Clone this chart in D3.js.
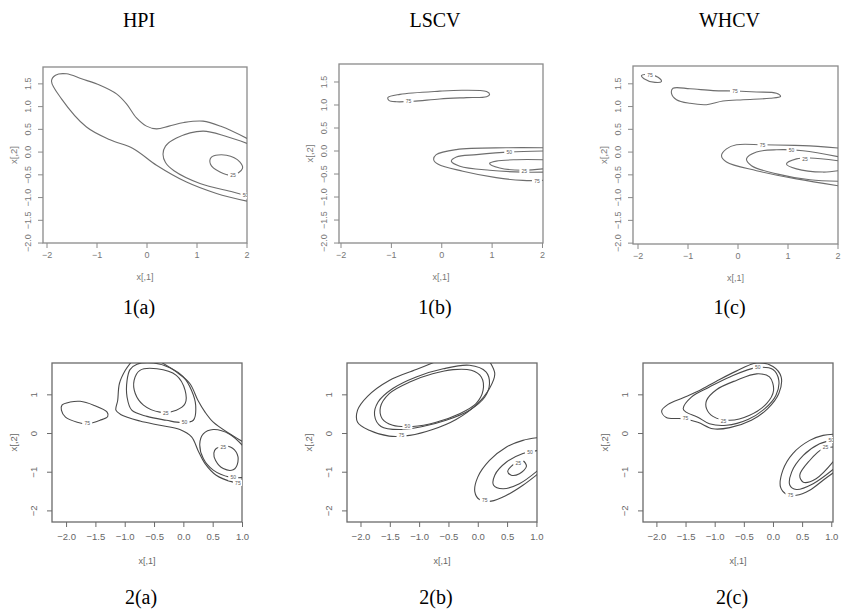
<!DOCTYPE html>
<html><head><meta charset="utf-8">
<script src="https://cdn.jsdelivr.net/npm/d3@7"></script>
<style>body{margin:0;background:#fff}svg{display:block}</style>
</head><body>
<svg id="c" width="841" height="611"></svg>
<script>
// ---------- data (contour lines, in data units) ----------
const methods = ["HPI", "LSCV", "WHCV"];
const rowLabels = [["1(a)", "1(b)", "1(c)"], ["2(a)", "2(b)", "2(c)"]];
const xTicksRow1 = [-2, -1, 0, 1, 2];
const yTicksRow1 = [-2.0, -1.5, -1.0, -0.5, 0.0, 0.5, 1.0, 1.5];
const xTicksRow2 = [-2.0, -1.5, -1.0, -0.5, 0.0, 0.5, 1.0];
const yTicksRow2 = [-2, -1, 0, 1];

// 1(a) HPI
const c1a_75 = [[2.01,0.29],[1.5,0.55],[1.13,0.67],[0.75,0.64],[0.45,0.56],[0.2,0.5],[0.0,0.56],[-0.2,0.74],[-0.4,1.05],[-0.6,1.27],[-0.93,1.46],[-1.3,1.6],[-1.6,1.71],[-1.82,1.68],[-1.9,1.55],[-1.7,1.16],[-1.2,0.54],[-0.73,0.26],[-0.27,0.07],[0.2,-0.3],[0.8,-0.67],[1.4,-0.92],[2.01,-1.09]];
const c1a_50 = [[2.01,0.18],[1.6,0.33],[1.13,0.45],[0.6,0.3],[0.38,0.12],[0.33,-0.06],[0.38,-0.24],[0.55,-0.42],[1.07,-0.7],[1.73,-0.89],[2.01,-0.98]];
const c1a_25 = [[1.3,-0.12],[1.6,-0.08],[1.87,-0.23],[1.92,-0.37],[1.73,-0.52],[1.47,-0.45],[1.28,-0.28]];
// 1(b) LSCV
const c1b_75a = [[-1.06,1.15],[-0.82,1.22],[-0.03,1.29],[0.43,1.31],[0.9,1.28],[0.96,1.22],[0.9,1.17],[0.5,1.15],[-0.03,1.12],[-0.56,1.07],[-0.89,1.06],[-1.04,1.09]];
const c1b_75b = [[2.02,0.06],[1.29,0.06],[0.3,0.02],[-0.1,-0.09],[-0.15,-0.2],[-0.06,-0.3],[0.43,-0.45],[1.09,-0.59],[1.62,-0.65],[2.02,-0.65]];
const c1b_50 = [[2.02,-0.01],[1.36,-0.03],[0.7,-0.09],[0.3,-0.14],[0.2,-0.23],[0.37,-0.34],[0.96,-0.43],[1.62,-0.47],[2.02,-0.47]];
const c1b_25 = [[2.02,-0.2],[1.49,-0.2],[1.09,-0.23],[0.96,-0.28],[1.16,-0.38],[1.62,-0.43],[2.02,-0.4]];
// 1(c) WHCV
const c1c_75a = [[-1.92,1.67],[-1.75,1.69],[-1.55,1.6],[-1.52,1.54],[-1.65,1.52],[-1.87,1.6]];
const c1c_75b = [[-1.29,1.39],[-0.95,1.38],[-0.49,1.34],[-0.02,1.33],[0.38,1.31],[0.78,1.28],[0.86,1.21],[0.65,1.17],[0.11,1.14],[-0.29,1.11],[-0.62,1.03],[-0.95,1.06],[-1.22,1.14],[-1.32,1.28]];
const c1c_75c = [[2.01,0.08],[1.31,0.13],[0.51,0.15],[-0.02,0.15],[-0.22,0.06],[-0.32,-0.09],[-0.22,-0.23],[0.38,-0.42],[1.18,-0.6],[2.01,-0.75]];
const c1c_50 = [[2.01,-0.11],[1.31,0.02],[0.78,0.04],[0.38,-0.01],[0.18,-0.16],[0.28,-0.31],[0.78,-0.49],[1.45,-0.62],[2.01,-0.65]];
const c1c_25 = [[2.01,-0.2],[1.45,-0.14],[1.18,-0.16],[0.98,-0.27],[1.18,-0.38],[1.71,-0.45],[2.01,-0.42]];
// 2(a) HPI
const c2a_75a = [[-2.07,0.72],[-1.93,0.8],[-1.76,0.82],[-1.53,0.72],[-1.3,0.54],[-1.29,0.43],[-1.42,0.33],[-1.64,0.24],[-1.81,0.28],[-2.01,0.41],[-2.08,0.59]];
const c2a_75b = [[-0.88,1.85],[-0.99,1.62],[-1.09,1.28],[-1.12,0.84],[-1.15,0.59],[-1.07,0.48],[-0.74,0.31],[-0.4,0.2],[-0.06,0.09],[0.14,-0.1],[0.25,-0.45],[0.37,-0.79],[0.56,-1.09],[0.85,-1.27],[1.02,-1.31]];
const c2a_75c = [[-0.4,1.85],[-0.12,1.58],[0.11,1.28],[0.25,0.84],[0.37,0.54],[0.51,0.28],[0.79,-0.02],[1.02,-0.23]];
const c2a_50a = [[-0.79,1.78],[-0.51,1.81],[-0.23,1.69],[0.0,1.45],[0.14,1.1],[0.21,0.72],[0.17,0.33],[-0.03,0.27],[-0.29,0.33],[-0.62,0.43],[-0.88,0.59],[-0.96,0.93],[-0.96,1.36],[-0.91,1.64]];
const c2a_50b = [[1.02,-0.34],[0.79,-0.03],[0.51,0.09],[0.34,-0.02],[0.28,-0.28],[0.34,-0.66],[0.51,-0.96],[0.79,-1.14],[1.02,-1.15]];
const c2a_25a = [[-0.74,1.62],[-0.45,1.66],[-0.12,1.49],[0.03,1.1],[0.03,0.76],[-0.12,0.59],[-0.4,0.54],[-0.68,0.72],[-0.82,1.02],[-0.84,1.36]];
const c2a_25b = [[0.56,-0.4],[0.76,-0.34],[0.9,-0.49],[0.93,-0.75],[0.85,-0.95],[0.68,-0.92],[0.55,-0.71],[0.52,-0.52]];
// 2(b) LSCV
const c2b_75a = [[-0.71,1.85],[-1.05,1.64],[-1.51,1.36],[-1.88,0.95],[-2.05,0.59],[-2.05,0.28],[-1.85,0.07],[-1.51,-0.08],[-1.16,-0.06],[-0.77,0.09],[-0.37,0.35],[-0.03,0.72],[0.2,1.15],[0.29,1.53],[0.2,1.85]];
const c2b_50a = [[-0.14,1.75],[0.14,1.58],[0.2,1.28],[0.12,0.93],[-0.14,0.59],[-0.54,0.33],[-0.94,0.17],[-1.33,0.09],[-1.65,0.17],[-1.76,0.46],[-1.7,0.8],[-1.45,1.15],[-1.05,1.45],[-0.59,1.66]];
const c2b_25a = [[-0.11,1.62],[0.06,1.45],[0.09,1.1],[-0.03,0.76],[-0.31,0.5],[-0.71,0.28],[-1.11,0.17],[-1.45,0.2],[-1.63,0.37],[-1.66,0.67],[-1.51,1.02],[-1.16,1.32],[-0.77,1.53],[-0.42,1.64]];
const c2b_75b = [[1.03,-0.12],[0.77,-0.19],[0.49,-0.36],[0.2,-0.71],[0.0,-1.14],[-0.05,-1.52],[0.03,-1.72],[0.23,-1.76],[0.49,-1.61],[0.77,-1.35],[1.03,-1.05]];
const c2b_50b = [[1.03,-0.45],[0.77,-0.53],[0.49,-0.75],[0.29,-1.09],[0.27,-1.35],[0.43,-1.44],[0.71,-1.31],[1.03,-0.96]];
const c2b_25b = [[0.66,-0.78],[0.77,-0.72],[0.83,-0.86],[0.71,-1.05],[0.57,-1.09],[0.51,-0.99],[0.57,-0.86]];
// 2(c) WHCV
const c2c_75a = [[-0.28,1.81],[0.0,1.72],[0.14,1.45],[0.1,1.02],[-0.09,0.63],[-0.37,0.33],[-0.74,0.14],[-1.03,0.11],[-1.29,0.28],[-1.54,0.37],[-1.83,0.4],[-1.91,0.57],[-1.8,0.74],[-1.54,0.91],[-1.26,1.1],[-0.97,1.34],[-0.63,1.6]];
const c2c_50a = [[-1.54,0.63],[-1.4,0.93],[-1.09,1.19],[-0.74,1.45],[-0.28,1.69],[0.0,1.64],[0.1,1.36],[0.05,0.97],[-0.14,0.63],[-0.43,0.35],[-0.8,0.2],[-1.09,0.24],[-1.29,0.41],[-1.49,0.54]];
const c2c_25a = [[-1.14,0.84],[-0.97,1.12],[-0.63,1.36],[-0.28,1.53],[-0.06,1.45],[0.01,1.1],[-0.11,0.76],[-0.4,0.46],[-0.74,0.33],[-1.03,0.43],[-1.14,0.63]];
const c2c_75b = [[1.05,-0.03],[0.86,-0.06],[0.63,-0.19],[0.34,-0.53],[0.17,-0.96],[0.13,-1.4],[0.23,-1.58],[0.4,-1.61],[0.63,-1.48],[0.86,-1.22],[1.05,-1.01]];
const c2c_50b = [[1.05,-0.17],[0.8,-0.28],[0.52,-0.58],[0.32,-1.01],[0.29,-1.35],[0.4,-1.46],[0.69,-1.31],[1.05,-0.92]];
const c2c_25b = [[1.05,-0.36],[0.86,-0.4],[0.63,-0.71],[0.46,-1.09],[0.52,-1.27],[0.74,-1.18],[1.05,-0.71]];

// contour-label anchors [x, y, level]
const lab1a = [[1.73,-0.52,"25"],[1.98,-0.97,"50"]];
const lab1b = [[-0.65,1.06,"75"],[1.35,-0.03,"50"],[1.65,-0.45,"25"],[1.9,-0.66,"75"]];
const lab1c = [[-1.75,1.68,"75"],[-0.05,1.33,"75"],[0.5,0.15,"75"],[1.08,0.03,"50"],[1.35,-0.16,"25"]];
const lab2a = [[-1.64,0.24,"75"],[-0.3,0.52,"25"],[0.02,0.27,"50"],[0.68,-0.36,"25"],[0.85,-1.15,"50"],[0.93,-1.29,"75"]];
const lab2b = [[-1.2,0.17,"50"],[-1.3,-0.06,"75"],[0.89,-0.5,"50"],[0.69,-0.77,"25"],[0.12,-1.74,"75"]];
const lab2c = [[-0.26,1.69,"50"],[-0.85,0.31,"25"],[-1.5,0.38,"75"],[1.0,-0.18,"50"],[0.9,-0.38,"25"],[0.3,-1.6,"75"]];

// ---------- layout ----------
const panels = [
  {row:0, box:[43,67,247,243],   xd:[-2.07,2.01], yd:[-2.01,1.86], lines:[[c1a_75,0],[c1a_50,0],[c1a_25,1]], labs:lab1a, lab:rowLabels[0][0], title:methods[0]},
  {row:0, box:[339,64,543,243],  xd:[-2.03,2.02], yd:[-2.01,1.88], lines:[[c1b_75a,1],[c1b_75b,0],[c1b_50,0],[c1b_25,0]], labs:lab1b, lab:rowLabels[0][1], title:methods[1]},
  {row:0, box:[633,66,838,244],  xd:[-2.09,2.01], yd:[-2.03,1.88], lines:[[c1c_75a,1],[c1c_75b,1],[c1c_75c,0],[c1c_50,0],[c1c_25,0]], labs:lab1c, lab:rowLabels[0][2], title:methods[2]},
  {row:1, box:[52,363,242,522],  xd:[-2.24,1.0],  yd:[-2.30,1.81], lines:[[c2a_75a,1],[c2a_75b,0],[c2a_75c,0],[c2a_50a,1],[c2a_50b,0],[c2a_25a,1],[c2a_25b,1]], labs:lab2a, lab:rowLabels[1][0]},
  {row:1, box:[347,363,537,522], xd:[-2.23,1.01], yd:[-2.30,1.81], lines:[[c2b_75a,0],[c2b_50a,1],[c2b_25a,1],[c2b_75b,0],[c2b_50b,0],[c2b_25b,1]], labs:lab2b, lab:rowLabels[1][1]},
  {row:1, box:[643,363,833,522], xd:[-2.23,1.03], yd:[-2.30,1.81], lines:[[c2c_75a,1],[c2c_50a,1],[c2c_25a,1],[c2c_75b,0],[c2c_50b,0],[c2c_25b,0]], labs:lab2c, lab:rowLabels[1][2]}
];

const svg = d3.select("#c");
const serif = "'Liberation Serif','Times New Roman',serif";
const sans = "'Liberation Sans',Arial,sans-serif";

panels.forEach((p, i) => {
  const [x0, y0, x1, y1] = p.box;
  const x = d3.scaleLinear().domain(p.xd).range([x0, x1]);
  const y = d3.scaleLinear().domain(p.yd).range([y1, y0]);
  const top = p.row === 0;
  const axisCol = top ? "#8a8a8a" : "#6a6a6a";
  const lineCol = top ? "#6e6e6e" : "#4a4a4a";
  const textCol = top ? "#777" : "#666";
  const g = svg.append("g");

  g.append("clipPath").attr("id", "cp" + i).append("rect")
    .attr("x", x0).attr("y", y0).attr("width", x1 - x0).attr("height", y1 - y0);

  const xt = top ? xTicksRow1 : xTicksRow2;
  const yt = top ? yTicksRow1 : yTicksRow2;
  const xAxis = d3.axisBottom(x).tickValues(xt).tickSize(5).tickPadding(top ? 4 : 6)
    .tickFormat(top ? d3.format("d") : d3.format(".1f"));
  const yAxis = d3.axisLeft(y).tickValues(yt).tickSize(5)
    .tickFormat(top ? d3.format(".1f") : d3.format("d"));

  const gx = g.append("g").attr("transform", `translate(0,${y1})`).call(xAxis);
  const gy = g.append("g").attr("transform", `translate(${x0},0)`).call(yAxis);
  [gx, gy].forEach(a => {
    a.select(".domain").remove();
    a.selectAll("line").attr("stroke", axisCol);
    a.selectAll("text").attr("fill", textCol).attr("font-family", sans).attr("font-size", top ? 9 : 9.5);
  });
  gy.selectAll("text").attr("text-anchor", "middle")
    .attr("transform", "rotate(-90)").attr("x", 0).attr("y", top ? -12 : -15).attr("dy", 0);

  g.append("rect").attr("x", x0).attr("y", y0).attr("width", x1 - x0).attr("height", y1 - y0)
    .attr("fill", "none").attr("stroke", axisCol).attr("stroke-width", 1.3);

  const cg = g.append("g").attr("clip-path", `url(#cp${i})`);
  p.lines.forEach(([pts, closed]) => {
    const line = d3.line().x(d => x(d[0])).y(d => y(d[1]))
      .curve(closed ? d3.curveCatmullRomClosed.alpha(0.5) : d3.curveCatmullRom.alpha(0.5));
    cg.append("path").attr("d", line(pts)).attr("fill", "none")
      .attr("stroke", lineCol).attr("stroke-width", 1.1);
  });
  p.labs.forEach(([lx, ly, t]) => {
    cg.append("rect").attr("x", x(lx) - 5).attr("y", y(ly) - 3).attr("width", 10).attr("height", 6).attr("fill", "#fff");
    cg.append("text").attr("x", x(lx)).attr("y", y(ly)).attr("dy", "0.35em")
      .attr("text-anchor", "middle").attr("font-family", sans).attr("font-size", 5)
      .attr("fill", "#555").text(t);
  });

  // axis titles
  g.append("text").attr("x", (x0 + x1) / 2).attr("y", top ? y1 + 37 : y1 + 42)
    .attr("text-anchor", "middle").attr("font-family", sans).attr("font-size", 9)
    .attr("fill", textCol).text("x[,1]");
  g.append("text").attr("transform", `translate(${x0 - (top ? 26 : 35)},${(y0 + y1) / 2}) rotate(-90)`)
    .attr("text-anchor", "middle").attr("font-family", sans).attr("font-size", 9.5)
    .attr("fill", textCol).text("x[,2]");

  // panel label
  g.append("text").attr("x", (x0 + x1) / 2 - 6).attr("y", top ? 314 : 604)
    .attr("text-anchor", "middle").attr("font-family", serif).attr("font-size", 20)
    .attr("fill", "#000").text(p.lab);
  if (p.title) {
    g.append("text").attr("x", (x0 + x1) / 2 - 6).attr("y", 27)
      .attr("text-anchor", "middle").attr("font-family", serif).attr("font-size", 20)
      .attr("fill", "#000").text(p.title);
  }
});
</script>
</body></html>
